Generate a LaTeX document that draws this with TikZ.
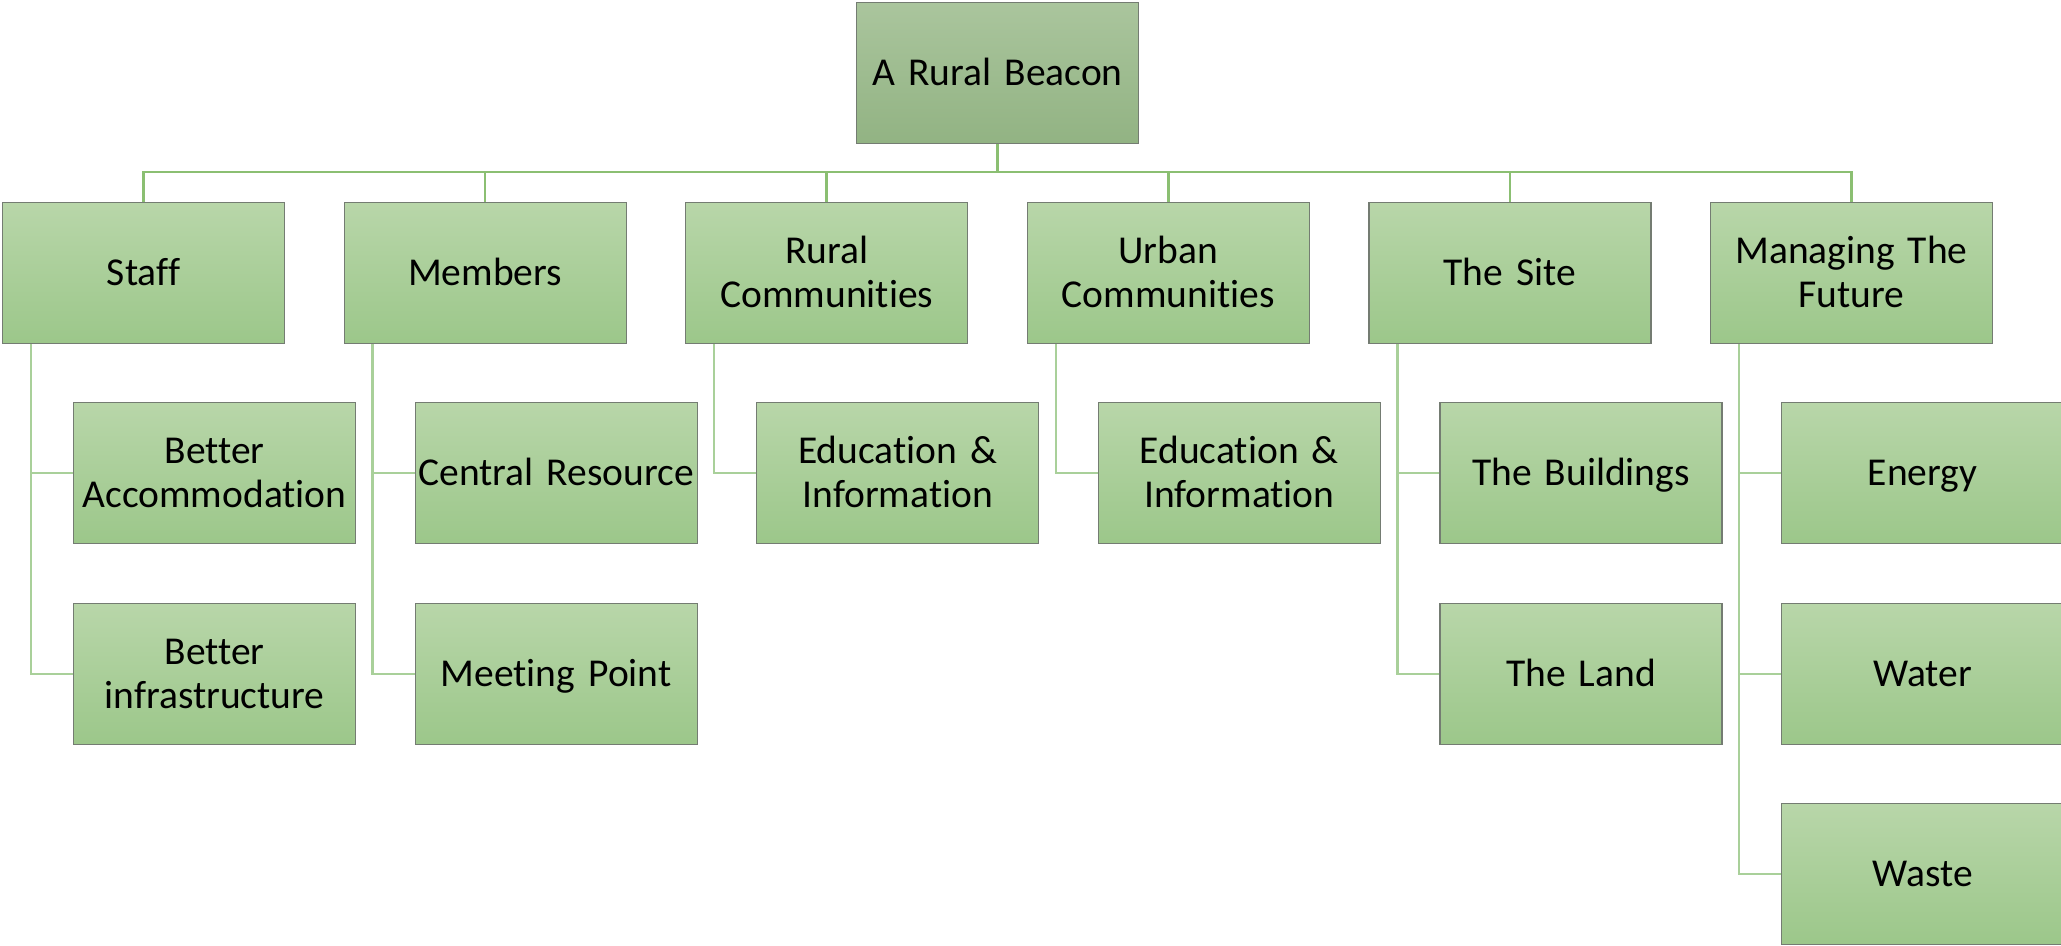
\documentclass[tikz,border=0pt]{standalone}
\usepackage{fontspec}
\setmainfont{Carlito}[Ligatures={NoCommon}]
\begin{document}
\begin{tikzpicture}[x=1pt,y=-1pt]
\definecolor{bordercol}{HTML}{747C72}
\definecolor{lvtop}{HTML}{B8D6A9}
\definecolor{lvbot}{HTML}{9CC78A}
\definecolor{rttop}{HTML}{AAC59D}
\definecolor{rtbot}{HTML}{92B383}
\definecolor{buscol}{HTML}{8BBF72}
\definecolor{spinecol}{HTML}{A9D09A}
\tikzset{
  box/.style={draw=bordercol, line width=1.1pt, top color=lvtop, bottom color=lvbot,
    minimum width=282pt, minimum height=141pt, inner sep=0pt, anchor=north west,
    align=center, text width=282pt, font=\fontsize{39.5}{44}\selectfont,
    execute at begin node=\rule{0pt}{31.5pt}, execute at end node=\vphantom{g}},
  rootbox/.style={box, top color=rttop, bottom color=rtbot},
  bus/.style={draw=buscol, line width=2.6pt},
  spine/.style={draw=spinecol, line width=2.4pt}
}
\useasboundingbox (0,0) rectangle (2061,945);
\node[rootbox] (root) at (856,2) {A Rural Beacon};
\node[box] (staff) at (2,202) {Staff};
\node[box] (members) at (343.6,202) {Members};
\node[box] (rural) at (685.2,202) {Rural\\Communities};
\node[box] (urban) at (1026.8,202) {Urban\\Communities};
\node[box] (site) at (1368.4,202) {The Site};
\node[box] (future) at (1710,202) {Managing The\\Future};
% children
\node[box] (acc) at (73,402) {Better\\Accommodation};
\node[box] (infra) at (73,603) {Better\\infrastructure};
\node[box] (central) at (414.6,402) {Central Resource};
\node[box] (meeting) at (414.6,603) {Meeting Point};
\node[box] (edur) at (756.2,402) {Education \&\\Information};
\node[box] (eduu) at (1097.8,402) {Education \&\\Information};
\node[box] (build) at (1439.4,402) {The Buildings};
\node[box] (land) at (1439.4,603) {The Land};
\node[box] (energy) at (1781,402) {Energy};
\node[box] (water) at (1781,603) {Water};
\node[box] (waste) at (1781,803) {Waste};
% bus
\draw[bus] (root.south) -- ++(0,29);
\draw[bus] (staff.north) -- ++(0,-30) -| (future.north);
\foreach \n in {members,rural,urban,site}{\draw[bus] (\n.north) -- ++(0,-30);}
% spines
\draw[spine] (staff.south west) ++(29,0) |- (infra.west);
\draw[spine] (staff.south west) ++(29,0) |- (acc.west);
\draw[spine] (members.south west) ++(29,0) |- (meeting.west);
\draw[spine] (members.south west) ++(29,0) |- (central.west);
\draw[spine] (rural.south west) ++(29,0) |- (edur.west);
\draw[spine] (urban.south west) ++(29,0) |- (eduu.west);
\draw[spine] (site.south west) ++(29,0) |- (land.west);
\draw[spine] (site.south west) ++(29,0) |- (build.west);
\draw[spine] (future.south west) ++(29,0) |- (waste.west);
\draw[spine] (future.south west) ++(29,0) |- (water.west);
\draw[spine] (future.south west) ++(29,0) |- (energy.west);
\end{tikzpicture}
\end{document}
